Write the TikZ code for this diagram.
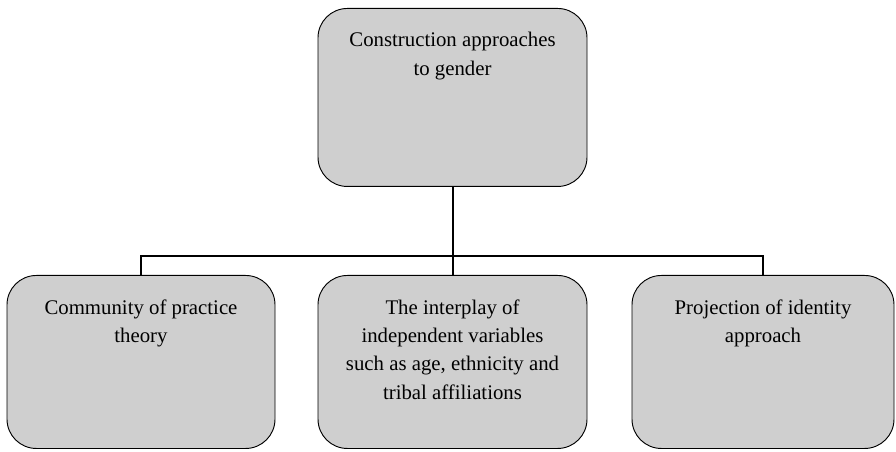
\documentclass[tikz,border=0pt]{standalone}
\usepackage{fontspec}
\setmainfont{Liberation Serif}
\definecolor{boxgray}{RGB}{207,207,207}
\newcommand{\boxtext}[3]{\begin{minipage}[t][#2][t]{#1}\centering\vspace*{18pt}#3\end{minipage}}
\tikzset{
  topic/.style={draw, rounded corners=22pt, fill=boxgray, line width=0.7pt, inner sep=0pt, anchor=north,
    font=\fontsize{15.6}{21.3}\selectfont},
  link/.style={line width=1.5pt}
}
\begin{document}
\begin{tikzpicture}[x=0.75pt,y=-0.75pt]
    \useasboundingbox (0,0) rectangle (896,452);
    % top of the tree
    \node[topic] (root) at (452.5,8) {\boxtext{201.75pt}{133.5pt}{Construction approaches\\ to gender}};
    % the three approaches
    \node[topic] (cop) at (141,275) {\boxtext{201pt}{129.75pt}{Community of practice\\ theory}};
    \node[topic] (var) at (452.5,275) {\boxtext{201.75pt}{129.75pt}{The interplay of\\ independent variables\\ such as age, ethnicity and\\ tribal affiliations}};
    \node[topic] (proj) at (763,275) {\boxtext{196.5pt}{129.75pt}{Projection of identity\\ approach}};
    \coordinate (bus) at (452.5,256);
    \draw[link] (root.south) -- (bus);
    \draw[link] (cop.north) |- (bus);
    \draw[link] (var.north) -- (bus);
    \draw[link] (proj.north) |- (bus);
\end{tikzpicture}
\end{document}
